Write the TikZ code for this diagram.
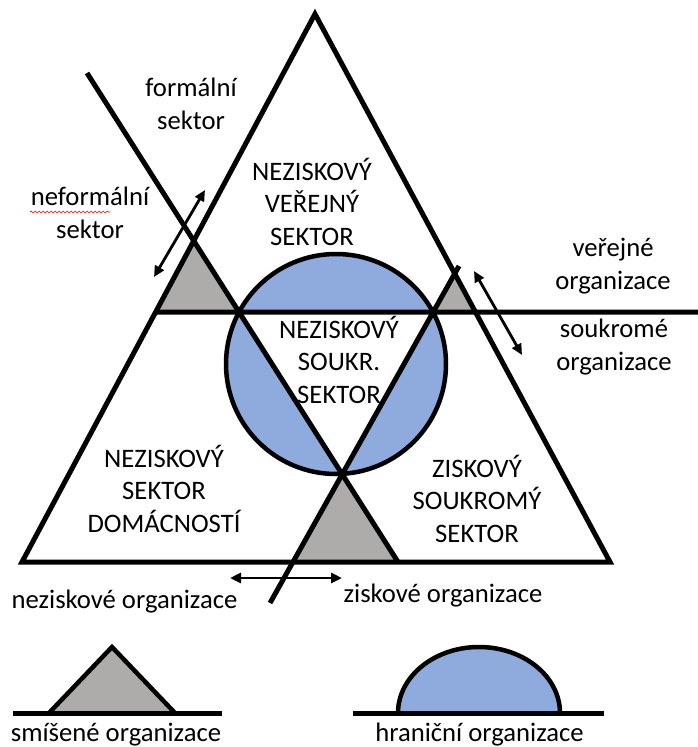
\documentclass[tikz,border=0pt]{standalone}
\usepackage{fontspec}
\setmainfont{Carlito}
\usetikzlibrary{arrows.meta,decorations.pathmorphing}
\definecolor{orgblue}{HTML}{8FAADC}
\definecolor{orggrey}{HTML}{AEABAB}
\begin{document}
\begin{tikzpicture}[x=1pt,y=-1pt,
  lbl/.style={font=\fontsize{26.67}{32.5}\selectfont, align=center, inner sep=0pt},
  mainline/.style={line width=5pt},
  rimline/.style={line width=4.5pt},
  dblarrow/.style={line width=2.8pt, {Triangle[length=11pt,width=10pt]}-{Triangle[length=11pt,width=10pt]}},
  spellmark/.style={red, line width=0.7pt, decorate, decoration={snake, segment length=4pt, amplitude=1pt}}]
\useasboundingbox (0,0) rectangle (698,747);
% geometry
\coordinate (T1) at (22,562);
\coordinate (T2) at (610,562);
\coordinate (T3) at (315,14);
\coordinate (L1a) at (87,73);
\coordinate (L1b) at (398,562);
\coordinate (L2a) at (459,266);
\coordinate (L2b) at (270,603);
\coordinate (Hr) at (698,312);
\coordinate (Hx) at (0,312);
\coordinate (Hl) at (intersection of T1--T3 and Hx--Hr);
\coordinate (A) at (intersection of L1a--L1b and Hx--Hr);
\coordinate (B) at (intersection of L2a--L2b and Hx--Hr);
\coordinate (C) at (intersection of L1a--L1b and L2a--L2b);
\coordinate (Gl) at (intersection of T1--T3 and L1a--L1b);
\coordinate (Gr) at (intersection of T2--T3 and L2a--L2b);
\coordinate (Gri) at (intersection of T2--T3 and Hx--Hr);
\coordinate (Gb) at (intersection of L2a--L2b and T1--T2);
\coordinate (O) at (336,364);
% fills
\fill[orgblue] (O) circle[radius=110pt];
\fill[white] (A) -- (B) -- (C) -- cycle;
\fill[orggrey] (Hl) -- (A) -- (Gl) -- cycle;
\fill[orggrey] (B) -- (Gri) -- (Gr) -- cycle;
\fill[orggrey] (C) -- (L1b) -- (Gb) -- cycle;
% outlines
\draw[rimline] (O) circle[radius=110pt];
\draw[mainline] (T1) -- (T2) -- (T3) -- cycle;
\draw[mainline] (L1a) -- (L1b);
\draw[mainline] (L2a) -- (L2b);
\draw[mainline] (Hl) -- (Hr);
% arrows
\coordinate (ar1a) at (154,277); \coordinate (ar1b) at (205,190);
\coordinate (ar2a) at (474,271); \coordinate (ar2b) at (522,355);
\coordinate (ar3a) at (230,578); \coordinate (ar3b) at (342,578);
\draw[dblarrow] (ar1a) -- (ar1b);
\draw[dblarrow] (ar2a) -- (ar2b);
\draw[dblarrow] (ar3a) -- (ar3b);
% labels
\node[lbl] (formal) at (191,104) {formální\\sektor};
\node[lbl] (neformal) at (90,213) {neformální\\sektor};
\coordinate (sp1) at (30,212); \coordinate (sp2) at (110,212);
\draw[spellmark] (sp1) -- (sp2);
\node[lbl] (verejny) at (312,201.5) {NEZISKOVÝ\\VEŘEJNÝ\\SEKTOR};
\node[lbl] (soukr) at (339,359.5) {NEZISKOVÝ\\SOUKR.\\SEKTOR};
\node[lbl] (domac) at (164,488.5) {NEZISKOVÝ\\SEKTOR\\DOMÁCNOSTÍ};
\node[lbl] (ziskovy) at (477,498.5) {ZISKOVÝ\\SOUKROMÝ\\SEKTOR};
\node[lbl] (verorg) at (613,266) {veřejné\\organizace};
\node[lbl] (soukorg) at (614,347) {soukromé\\organizace};
\node[lbl, anchor=base] (nezorg) at (124.5,608) {neziskové organizace};
\node[lbl, anchor=base] (zisorg) at (443,602) {ziskové organizace};
% legend
\coordinate (lg1a) at (13,713); \coordinate (lg1b) at (222,713);
\coordinate (lt1) at (49,713); \coordinate (lt2) at (112,647); \coordinate (lt3) at (175,713);
\fill[orggrey] (lt1) -- (lt2) -- (lt3) -- cycle;
\draw[rimline] (lt1) -- (lt2) -- (lt3);
\draw[mainline] (lg1a) -- (lg1b);
\coordinate (lg2a) at (353,713); \coordinate (lg2b) at (604,713);
\coordinate (hc1) at (398,713);
\fill[orgblue] (hc1) arc[start angle=180, end angle=0, x radius=81pt, y radius=66pt] -- cycle;
\draw[rimline] (hc1) arc[start angle=180, end angle=0, x radius=81pt, y radius=66pt];
\draw[mainline] (lg2a) -- (lg2b);
\node[lbl, anchor=base] (smis) at (116,741) {smíšené organizace};
\node[lbl, anchor=base] (hran) at (479.5,741) {hraniční organizace};
\end{tikzpicture}
\end{document}
